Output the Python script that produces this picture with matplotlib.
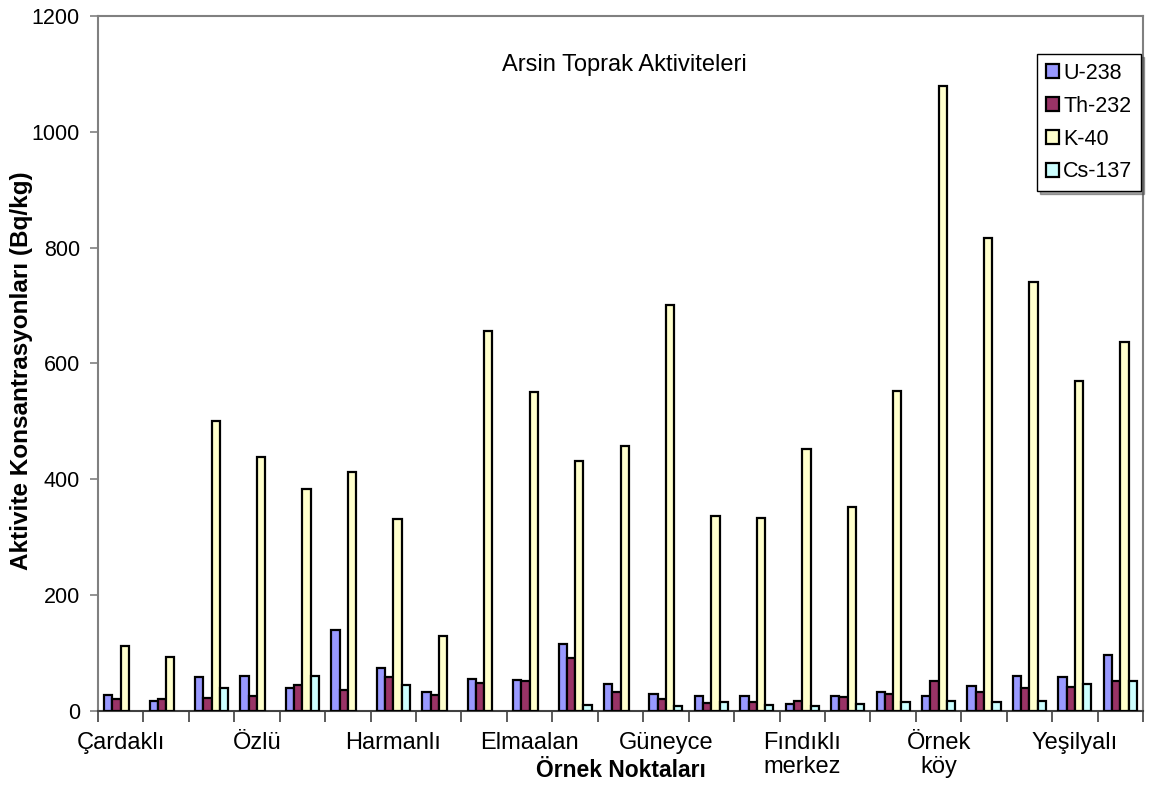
import numpy as np
import matplotlib.pyplot as plt

plt.rcParams['font.family'] = ['Liberation Sans', 'DejaVu Sans']

# every third category carries a visible label
labels = ["Çardaklı", "", "", "Özlü", "", "", "Harmanlı", "", "",
          "Elmaalan", "", "", "Güneyce", "", "", "Fındıklı\nmerkez", "", "",
          "Örnek\nköy", "", "", "Yeşilyalı", ""]

u238 = [27, 17, 59, 61, 40, 139, 74, 32, 55, 53, 115, 46,
        29, 25, 25, 12, 26, 32, 26, 43, 61, 59, 97]
th232 = [20, 20, 23, 26, 44, 36, 59, 27, 49, 51, 91, 32,
         20, 13, 16, 17, 24, 29, 51, 33, 40, 42, 52]
k40 = [113, 93, 500, 438, 383, 412, 332, 130, 656, 551, 431, 458,
       701, 336, 334, 453, 353, 552, 1079, 816, 741, 570, 637]
cs137 = [0, 0, 40, 0, 60, 0, 45, 0, 0, 0, 11, 0,
         9, 16, 10, 9, 12, 16, 17, 16, 17, 47, 52]

series = [("U-238", u238, "#9999FF"),
          ("Th-232", th232, "#993366"),
          ("K-40", k40, "#FFFFCC"),
          ("Cs-137", cs137, "#CCFFFF")]

fig = plt.figure(figsize=(11.49, 7.92), dpi=100)
ax = fig.add_axes([0.0853, 0.1023, 0.9095, 0.8775])

x = np.arange(len(labels))
w = 0.182
for i, (name, vals, col) in enumerate(series):
    v = np.array(vals, dtype=float)
    pos = x + (i - 1.5) * w
    mask = v > 0
    ax.bar(pos[mask], v[mask], width=w, color=col, edgecolor="black",
           linewidth=1.6, label=name, zorder=3)

ax.set_xlim(-0.5, len(labels) - 0.5)
ax.set_ylim(0, 1200)
ax.set_yticks(np.arange(0, 1201, 200))

ax.set_xticks(np.arange(-0.5, len(labels) + 0.5, 1))
ax.set_xticklabels([])
ax.set_xticks(x, minor=True)
ax.set_xticklabels(labels, minor=True, fontsize=17, linespacing=1.15)
ax.tick_params(axis="x", which="major", direction="out", length=8, width=1.2, color="#404040")
ax.tick_params(axis="x", which="minor", length=0, pad=15)
ax.tick_params(axis="y", direction="out", length=6, width=1.2, color="#808080",
               labelsize=15.5, pad=7)

for s in ["top", "right", "left"]:
    ax.spines[s].set_color("#808080")
    ax.spines[s].set_linewidth(1.5)
ax.spines["bottom"].set_color("#404040")
ax.spines["bottom"].set_linewidth(1.5)

ax.set_ylabel("Aktivite Konsantrasyonları (Bq/kg)", fontsize=17.5, fontweight="bold")
ax.yaxis.set_label_coords(-0.062, 0.489)
ax.set_xlabel("Örnek Noktaları", fontsize=16.5, fontweight="bold", labelpad=-14)

ax.text(0.504, 0.93, "Arsin Toprak Aktiviteleri", transform=ax.transAxes,
        ha="center", va="center", fontsize=17)

leg = ax.legend(loc="upper right", bbox_to_anchor=(0.998, 0.945), fontsize=15.5,
                frameon=True, fancybox=False, shadow=True, borderpad=0.4,
                handlelength=0.6, handleheight=0.6, handletextpad=0.2,
                labelspacing=0.55, borderaxespad=0)
leg.get_frame().set_edgecolor("black")
leg.get_frame().set_linewidth(1.0)

fig.savefig("out.png", dpi=100)
